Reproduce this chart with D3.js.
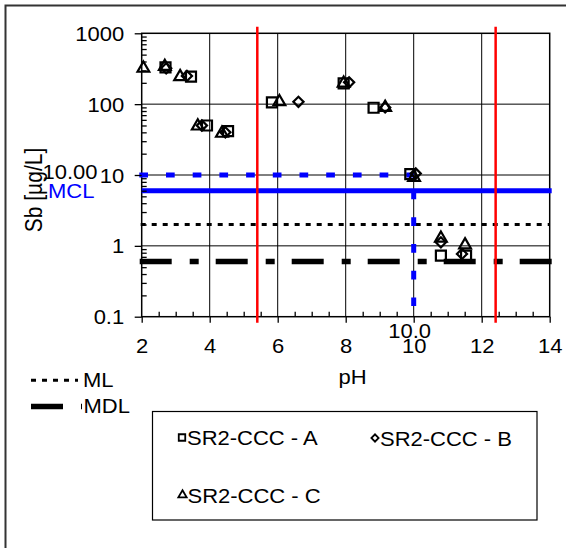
<!DOCTYPE html>
<html>
<head>
<meta charset="utf-8">
<script src="https://cdn.jsdelivr.net/npm/d3@7"></script>
<style>
  body { margin: 0; background: #fff; }
  svg { display: block; font-family: "Liberation Sans", Arial, sans-serif; }
</style>
</head>
<body>
<svg id="chart" width="566" height="548"></svg>
<script>
// series (pH, Sb in ug/L)
const phA = [2.7, 3.45, 3.92, 4.54, 5.83, 7.94, 8.82, 9.9, 10.8, 11.54];
const sbA = [330, 245, 50, 41.7, 106, 197, 89, 10.3, 0.73, 0.73];
const phB = [2.72, 3.33, 3.77, 4.46, 6.61, 8.1, 9.16, 10.06, 10.8, 11.42];
const sbB = [320, 250, 50, 40, 108, 203, 90, 10.5, 1.12, 0.77];
const phC = [2.05, 2.68, 3.13, 3.65, 4.36, 6.05, 7.94, 9.16, 10.01, 10.8, 11.51];
const sbC = [320, 340, 244, 49, 38.7, 108, 197, 90, 9.25, 1.28, 1.03];

const seriesNames = ["SR2-CCC - A", "SR2-CCC - B", "SR2-CCC - C"];
const limitPH = [5.4, 12.41];
const mcl = 6, ml = 2, mdl = 0.6, refSb = 10, refPH = 10;
const xTicks = [2, 4, 6, 8, 10, 12, 14];
const yTicks = [0.1, 1, 10, 100, 1000];

const svg = d3.select("#chart");
const margin = { top: 33.3, left: 141.7 };
const width = 408;
const height = 283.4;
const SX = 1.1; // text in the picture is a bit wide
const FS = 20;

// outer frame (runs off the right / bottom edge)
svg.append("rect")
  .attr("x", 5.5).attr("y", 5.5)
  .attr("width", 620).attr("height", 620)
  .attr("fill", "none").attr("stroke", "#333").attr("stroke-width", 2);

const graph = svg.append("g")
  .attr("transform", `translate(${margin.left},${margin.top})`);

const x = d3.scaleLinear().domain([2, 14]).range([0, width]);
const y = d3.scaleLog().domain([0.1, 1000]).range([height, 0]);

// grid
graph.append("g").selectAll("line")
  .data(xTicks.slice(1, -1))
  .join("line")
  .attr("x1", d => x(d)).attr("x2", d => x(d))
  .attr("y1", 0).attr("y2", height)
  .attr("stroke", "#000").attr("stroke-width", 1);
graph.append("g").selectAll("line")
  .data(yTicks.slice(1, -1))
  .join("line")
  .attr("x1", 0).attr("x2", width)
  .attr("y1", d => y(d)).attr("y2", d => y(d))
  .attr("stroke", "#000").attr("stroke-width", 1);

graph.append("rect")
  .attr("width", width).attr("height", height)
  .attr("fill", "none").attr("stroke", "#000").attr("stroke-width", 1.5);

// reference lines
graph.append("line")
  .attr("x1", x(2) - 2).attr("x2", x(14) + 2)
  .attr("y1", y(mdl)).attr("y2", y(mdl))
  .attr("stroke", "#000").attr("stroke-width", 5.5)
  .attr("stroke-dasharray", "32,18,9,17");
graph.append("line")
  .attr("x1", x(2) - 1).attr("x2", x(14))
  .attr("y1", y(ml)).attr("y2", y(ml))
  .attr("stroke", "#000").attr("stroke-width", 3)
  .attr("stroke-dasharray", "5,6");
graph.append("line")
  .attr("x1", x(2)).attr("x2", x(14) + 2)
  .attr("y1", y(mcl)).attr("y2", y(mcl))
  .attr("stroke", "#0000ff").attr("stroke-width", 5);
graph.append("line")
  .attr("x1", x(2) - 2.4).attr("x2", x(refPH))
  .attr("y1", y(refSb)).attr("y2", y(refSb))
  .attr("stroke", "#0000ff").attr("stroke-width", 5)
  .attr("stroke-dasharray", "8.7,18");
graph.append("line")
  .attr("x1", x(refPH)).attr("x2", x(refPH))
  .attr("y1", y(refSb)).attr("y2", height)
  .attr("stroke", "#0000ff").attr("stroke-width", 5)
  .attr("stroke-dasharray", "8.7,18")
  .attr("stroke-dashoffset", 11.1);

// red pH limits
graph.append("g").selectAll("line")
  .data(limitPH)
  .join("line")
  .attr("x1", d => x(d)).attr("x2", d => x(d))
  .attr("y1", -6.6).attr("y2", height + 6)
  .attr("stroke", "#ff0000").attr("stroke-width", 2.5);

// axes
const yAxisGroup = graph.append("g")
  .call(d3.axisLeft(y).tickValues(yTicks).tickFormat(d3.format("~g")).tickSizeInner(7).tickSizeOuter(0));
const yMinor = [];
yTicks.slice(0, -1).forEach(t => { for (let k = 2; k <= 9; k++) yMinor.push(t * k); });
graph.append("g")
  .call(d3.axisRight(y).tickValues(yMinor).tickFormat("").tickSize(5).tickSizeOuter(0));

const xAxisGroup = graph.append("g")
  .attr("transform", `translate(0,${height})`)
  .call(d3.axisBottom(x).tickValues(xTicks).tickSizeInner(6).tickSizeOuter(0));
const xMinor = d3.range(2.5, 14, 0.5).filter(d => d % 2 !== 0);
graph.append("g")
  .attr("transform", `translate(0,${height})`)
  .call(d3.axisTop(x).tickValues(xMinor).tickFormat("").tickSize(5).tickSizeOuter(0));

graph.selectAll(".domain").remove();
graph.selectAll(".tick line").attr("stroke", "#000").attr("stroke-width", 1.3);

yAxisGroup.attr("font-size", null).attr("font-family", null);
yAxisGroup.selectAll("text")
  .attr("x", -17.5 / SX).attr("dy", "0.35em")
  .attr("transform", `scale(${SX},1)`)
  .attr("font-size", FS).attr("fill", "#000");
xAxisGroup.attr("font-size", null).attr("font-family", null);
xAxisGroup.selectAll("text")
  .attr("y", 29.8).attr("dy", "0.35em")
  .attr("transform", `scale(${SX},1)`)
  .attr("font-size", FS).attr("fill", "#000");

// markers
const squareSym = d3.symbol().type(d3.symbolSquare).size(100);
const diamondSym = d3.symbol().type(d3.symbolSquare).size(52);
const triSym = d3.symbol().type(d3.symbolTriangle).size(60);

const drawSeries = (ph, sb, path, rot) => {
  graph.append("g").selectAll("path")
    .data(ph.map((p, i) => ({ ph: p, sb: sb[i] })))
    .join("path")
    .attr("d", path)
    .attr("transform", d => `translate(${x(d.ph)},${y(d.sb)}) rotate(${rot})`)
    .attr("fill", "none").attr("stroke", "#000").attr("stroke-width", 2.2);
};
drawSeries(phA, sbA, squareSym, 0);
drawSeries(phB, sbB, diamondSym, 45);
drawSeries(phC, sbC, triSym, 0);

// text labels
const label = (tx, ty, str, anchor, color) =>
  svg.append("text")
    .attr("transform", `translate(${tx},${ty}) scale(${SX},1)`)
    .attr("text-anchor", anchor)
    .attr("dy", "0.35em")
    .attr("font-size", FS)
    .attr("fill", color || "#000")
    .text(str);

label(97.5, 171.7, "10.00", "end");
label(48, 191, "MCL", "start", "#0000ff");
label(409.7, 331, "10.0", "middle");
label(352.5, 377, "pH", "middle");

svg.append("text")
  .attr("transform", `translate(34,190) scale(${SX},1) rotate(-90)`)
  .attr("text-anchor", "middle")
  .attr("dy", "0.35em")
  .attr("font-size", 21)
  .text("Sb [µg/L]");

// ML / MDL key
svg.append("line")
  .attr("x1", 31).attr("x2", 78).attr("y1", 380.3).attr("y2", 380.3)
  .attr("stroke", "#000").attr("stroke-width", 3).attr("stroke-dasharray", "5,6");
label(83, 380.3, "ML", "start");
svg.append("line")
  .attr("x1", 31).attr("x2", 82).attr("y1", 406.5).attr("y2", 406.5)
  .attr("stroke", "#000").attr("stroke-width", 5.5).attr("stroke-dasharray", "32,18,9,17");
label(83.5, 406, "MDL", "start");

// series legend
svg.append("rect")
  .attr("x", 152.5).attr("y", 411.5)
  .attr("width", 384.5).attr("height", 108.5)
  .attr("fill", "none").attr("stroke", "#000").attr("stroke-width", 1.2);

const legendItems = [
  { name: seriesNames[0], sym: d3.symbol().type(d3.symbolSquare).size(42), rot: 0, mx: 182, my: 437.5 },
  { name: seriesNames[1], sym: d3.symbol().type(d3.symbolSquare).size(26), rot: 45, mx: 375, my: 438 },
  { name: seriesNames[2], sym: d3.symbol().type(d3.symbolTriangle).size(30), rot: 0, mx: 182.5, my: 495 }
];
legendItems.forEach(d => {
  svg.append("path")
    .attr("d", d.sym)
    .attr("transform", `translate(${d.mx},${d.my}) rotate(${d.rot})`)
    .attr("fill", "none").attr("stroke", "#000").attr("stroke-width", 1.8);
  label(d.mx + 5, d.my + 0.5, d.name, "start");
});
</script>
</body>
</html>
